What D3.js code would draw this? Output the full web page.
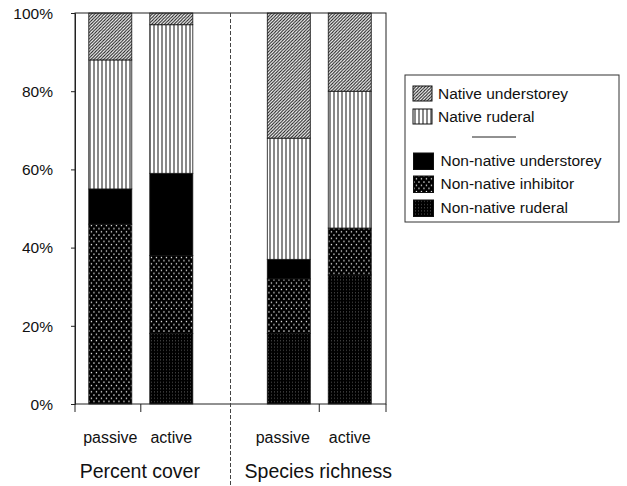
<!DOCTYPE html>
<html>
<head>
<meta charset="utf-8">
<script src="https://cdn.jsdelivr.net/npm/d3@7"></script>
<style>
  body { margin: 0; background: #fff; }
  text { font-family: "Liberation Sans", Arial, sans-serif; fill: #111; }
</style>
</head>
<body>
<div id="chart"></div>
<script>
/* DATA */
const panels = ["Percent cover", "Species richness"];
const treatments = ["passive", "active"];
// stacked from the bottom up
const seriesNames = ["Non-native ruderal", "Non-native inhibitor", "Non-native understorey", "Native ruderal", "Native understorey"];
const coverPassive = [0, 46, 9, 33, 12];
const coverActive = [18, 20, 21, 38, 3];
const richnessPassive = [18, 14, 5, 31, 32];
const richnessActive = [33, 12, 0, 35, 20];
const yTicks = [0, 20, 40, 60, 80, 100];
const legendOrder = ["Native understorey", "Native ruderal", null, "Non-native understorey", "Non-native inhibitor", "Non-native ruderal"];

/* CONSTANTS */
const width = 627,
  height = 486,
  plot = { left: 75, right: 386, top: 13, bottom: 404 };

const rows = [
  { panel: panels[0], treatment: treatments[0], values: coverPassive },
  { panel: panels[0], treatment: treatments[1], values: coverActive },
  { panel: panels[1], treatment: treatments[0], values: richnessPassive },
  { panel: panels[1], treatment: treatments[1], values: richnessActive }
].map(r => {
  const o = { panel: r.panel, treatment: r.treatment };
  seriesNames.forEach((s, i) => (o[s] = r.values[i]));
  return o;
});

const svg = d3.select("#chart").append("svg")
  .attr("width", width)
  .attr("height", height);

/* PATTERNS */
const defs = svg.append("defs");

const hatch = defs.append("pattern").attr("id", "p-hatch")
  .attr("patternUnits", "userSpaceOnUse").attr("width", 3.2).attr("height", 3.2);
hatch.append("rect").attr("width", 3.2).attr("height", 3.2).attr("fill", "#fff");
hatch.append("path").attr("d", "M-1,1 l2,-2 M0,3.2 l3.2,-3.2 M2.2,4.2 l2,-2")
  .attr("stroke", "#1a1a1a").attr("stroke-width", 1);

const vert = defs.append("pattern").attr("id", "p-vert")
  .attr("patternUnits", "userSpaceOnUse").attr("width", 4).attr("height", 4);
vert.append("rect").attr("width", 4).attr("height", 4).attr("fill", "#fff");
vert.append("rect").attr("x", 1.5).attr("width", 1).attr("height", 4).attr("fill", "#111");

const dots = defs.append("pattern").attr("id", "p-dots")
  .attr("patternUnits", "userSpaceOnUse").attr("width", 5).attr("height", 6.4);
dots.append("rect").attr("width", 5).attr("height", 6.4).attr("fill", "#000");
dots.append("rect").attr("x", 0.8).attr("y", 0.8).attr("width", 1.3).attr("height", 1.3).attr("fill", "#eee");
dots.append("rect").attr("x", 3.3).attr("y", 4).attr("width", 1.3).attr("height", 1.3).attr("fill", "#eee");

const fine = defs.append("pattern").attr("id", "p-fine")
  .attr("patternUnits", "userSpaceOnUse").attr("width", 3).attr("height", 3.2);
fine.append("rect").attr("width", 3).attr("height", 3.2).attr("fill", "#000");
fine.append("rect").attr("x", 1).attr("y", 1).attr("width", 1).attr("height", 1).attr("fill", "#555");

const fills = {
  "Native understorey": "url(#p-hatch)",
  "Native ruderal": "url(#p-vert)",
  "Non-native understorey": "#000",
  "Non-native inhibitor": "url(#p-dots)",
  "Non-native ruderal": "url(#p-fine)"
};

/* SCALES */
const y = d3.scaleLinear().domain([0, 100]).range([plot.bottom, plot.top]);

const panelX = {
  [panels[0]]: d3.scaleBand().domain(treatments).range([plot.left, 206.6]).paddingInner(0.295).paddingOuter(0.226),
  [panels[1]]: d3.scaleBand().domain(treatments).range([253.5, plot.right - 1]).paddingInner(0.295).paddingOuter(0.226)
};
const xOf = d => panelX[d.panel](d.treatment);
const bw = panelX[panels[0]].bandwidth();
const midTick = p => (panelX[p](treatments[0]) + panelX[p](treatments[1]) + bw) / 2;

/* BARS */
const stack = d3.stack().keys(seriesNames);
const layers = stack(rows);

svg.append("g").selectAll("g")
  .data(layers)
  .join("g")
  .attr("fill", d => fills[d.key])
  .selectAll("rect")
  .data(d => d.filter(s => s[1] - s[0] > 0))
  .join("rect")
  .attr("x", d => xOf(d.data))
  .attr("y", d => y(d[1]))
  .attr("width", bw)
  .attr("height", d => y(d[0]) - y(d[1]))
  .attr("stroke", "#111")
  .attr("stroke-width", 0.8);

/* FRAME AND AXES */
svg.append("rect")
  .attr("x", plot.left).attr("y", plot.top)
  .attr("width", plot.right - plot.left).attr("height", plot.bottom - plot.top)
  .attr("fill", "none").attr("stroke", "#222").attr("stroke-width", 1);

const yAxis = d3.axisLeft(y).tickValues(yTicks).tickFormat(d => d + "%").tickSize(4).tickPadding(18);
svg.append("g")
  .attr("transform", `translate(${plot.left},0)`)
  .call(yAxis)
  .call(g => g.select(".domain").attr("stroke", "#222"))
  .call(g => g.selectAll(".tick line").attr("stroke", "#222"))
  .call(g => g.selectAll(".tick text").attr("font-size", 15.5).attr("font-family", null).attr("fill", "#111").attr("dy", "0.34em"));

const xTicks = [plot.left, midTick(panels[0]), midTick(panels[1]), plot.right];
svg.append("g").selectAll("line")
  .data(xTicks)
  .join("line")
  .attr("x1", d => d).attr("x2", d => d)
  .attr("y1", plot.bottom).attr("y2", plot.bottom + 8)
  .attr("stroke", "#222");

// divider between panels
const divX = (plot.left + plot.right) / 2;
svg.append("line")
  .attr("x1", divX).attr("x2", divX)
  .attr("y1", plot.top).attr("y2", height)
  .attr("stroke", "#444").attr("stroke-width", 1)
  .attr("stroke-dasharray", "4,2");

/* LABELS */
svg.append("g").selectAll("text")
  .data(rows)
  .join("text")
  .attr("x", d => xOf(d) + bw / 2 - (d.panel === panels[1] && d.treatment === "passive" ? 6 : 0))
  .attr("y", 443)
  .attr("text-anchor", "middle")
  .attr("font-size", 16)
  .text(d => d.treatment);

svg.append("g").selectAll("text")
  .data(panels)
  .join("text")
  .attr("x", d => midTick(d) - 1)
  .attr("y", 478)
  .attr("text-anchor", "middle")
  .attr("font-size", 19.5)
  .text(d => d);

/* LEGEND */
const legend = svg.append("g").attr("transform", "translate(405,75)");
legend.append("rect")
  .attr("width", 214).attr("height", 147)
  .attr("fill", "#fff").attr("stroke", "#333").attr("stroke-width", 1);

const rowY = [18, 41, 62, 85, 108, 132];
legendOrder.forEach((name, i) => {
  if (name === null) {
    legend.append("line")
      .attr("x1", 67).attr("x2", 111)
      .attr("y1", rowY[i]).attr("y2", rowY[i])
      .attr("stroke", "#222");
    return;
  }
  const native = name.startsWith("Native");
  legend.append("rect")
    .attr("x", native ? 8 : 8.5).attr("y", rowY[i] - 7)
    .attr("width", native ? 19 : 20).attr("height", native ? 15 : 16.5)
    .attr("fill", fills[name]).attr("stroke", "#111").attr("stroke-width", 1);
  legend.append("text")
    .attr("x", native ? 33 : 35.5).attr("y", rowY[i] + 6)
    .attr("font-size", 15.5)
    .text(name);
});
</script>
</body>
</html>
